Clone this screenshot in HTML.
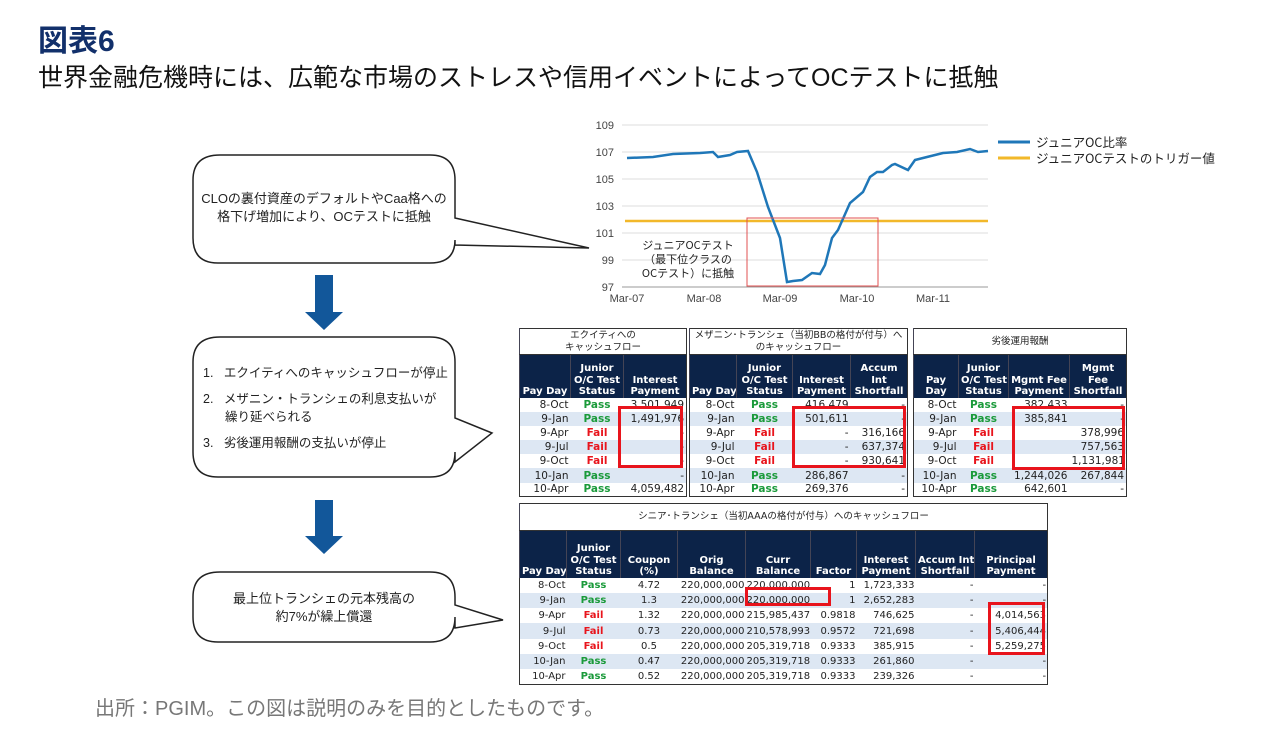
<!DOCTYPE html>
<html><head><meta charset="utf-8">
<style>
body{margin:0;width:1280px;height:737px;background:#fff;position:relative;overflow:hidden;font-family:"Liberation Sans","Noto Sans CJK JP",sans-serif;}
.abs{position:absolute;}
table{border-collapse:collapse;position:absolute;font-family:"DejaVu Sans","Noto Sans CJK JP",sans-serif;font-size:10.5px;border:1px solid #333;table-layout:fixed;background:#fff;}
table.s4{font-size:10px;}
table.s4 td{padding:0 1px;}
td,th{padding:0 2px;white-space:nowrap;overflow:hidden;}
th{background:#0c2348;color:#fff;font-weight:bold;line-height:11.5px;vertical-align:bottom;text-align:center;border-left:1px solid #445;font-size:10px;}
th.t{background:#fff;color:#222;font-weight:normal;font-size:9.5px;line-height:12px;vertical-align:middle;border-bottom:1px solid #333;}
td{text-align:right;color:#222;}
td.s{text-align:center;}
tr.a td{background:#dde7f3;}
.p{color:#1a9a3a;font-weight:bold;text-align:center;}
.f{color:#e8141c;font-weight:bold;text-align:center;}
.rb{position:absolute;border:3px solid #e8141c;box-sizing:border-box;}
</style></head><body>
<div class="abs" style="left:38px;top:16px;font-size:30px;font-weight:bold;color:#12306b;">図表6</div>
<div class="abs" style="left:38px;top:58px;font-size:25px;color:#111;">世界金融危機時には、広範な市場のストレスや信用イベントによってOCテストに抵触</div>
<div class="abs" style="left:95px;top:692px;font-size:20px;color:#777;">出所：PGIM。この図は説明のみを目的としたものです。</div>

<svg class="abs" style="left:0;top:0" width="1280" height="737">
<g fill="#fff" stroke="#222" stroke-width="1.5">
<path d="M220,155 H430 Q455,155 455,180 V218 L589,248 L455,245 V240 Q455,263 430,263 H218 Q193,263 193,238 V180 Q193,155 220,155 Z"/>
<path d="M220,337 H430 Q455,337 455,362 V418 L492,433 L455,462 V452 Q455,477 430,477 H218 Q193,477 193,452 V362 Q193,337 220,337 Z"/>
<path d="M220,572 H430 Q455,572 455,597 V605 L503,620 L455,628 V617 Q455,642 430,642 H218 Q193,642 193,617 V597 Q193,572 220,572 Z"/>
</g>
<g fill="#12579a">
<path d="M315,275 H333 V312 H343 L324,330 L305,312 H315 Z"/>
<path d="M315,500 H333 V536 H343 L324,554 L305,536 H315 Z"/>
</g>
<g stroke="#ddd" stroke-width="1">
<line x1="622" x2="988" y1="125" y2="125"/><line x1="622" x2="988" y1="152" y2="152"/><line x1="622" x2="988" y1="179" y2="179"/><line x1="622" x2="988" y1="206" y2="206"/><line x1="622" x2="988" y1="233" y2="233"/><line x1="622" x2="988" y1="260" y2="260"/>
</g>
<line x1="622" x2="988" y1="287" y2="287" stroke="#999"/>
<g font-size="11" fill="#444" font-family="Liberation Sans,sans-serif" text-anchor="end">
<text x="614" y="129">109</text><text x="614" y="156">107</text><text x="614" y="183">105</text><text x="614" y="210">103</text><text x="614" y="237">101</text><text x="614" y="264">99</text><text x="614" y="291">97</text>
</g>
<g font-size="11" fill="#444" font-family="Liberation Sans,sans-serif" text-anchor="middle">
<text x="627" y="302">Mar-07</text><text x="704" y="302">Mar-08</text><text x="780" y="302">Mar-09</text><text x="857" y="302">Mar-10</text><text x="933" y="302">Mar-11</text>
</g>
<line x1="625" x2="988" y1="221" y2="221" stroke="#f2b82a" stroke-width="2.5"/>
<polyline fill="none" stroke="#1f77b8" stroke-width="2.5" points="627,158 653,157 673,154 700,153 713,152 718,157 730,155 737,152 748,151 757,172 768,207 780,238 787,282 793,281 802,280 812,273 820,274 825,265 832,238 838,230 850,203 863,192 870,177 877,172 883,172 892,165 895,164 908,170 915,160 927,157 943,153 957,152 970,149 978,152 988,151"/>
<rect x="747" y="218" width="131" height="68" fill="none" stroke="#e05050" stroke-width="1"/>
<g font-size="11" fill="#222" text-anchor="middle" font-family="Noto Sans CJK JP,sans-serif">
<text x="688" y="249">ジュニアOCテスト</text><text x="688" y="263">（最下位クラスの</text><text x="688" y="277">OCテスト）に抵触</text>
</g>
<line x1="998" x2="1030" y1="142" y2="142" stroke="#1f77b8" stroke-width="3"/>
<line x1="998" x2="1030" y1="158" y2="158" stroke="#f2b82a" stroke-width="3"/>
<g font-size="12.5" fill="#222" font-family="Noto Sans CJK JP,sans-serif"><text x="1036" y="147">ジュニアOC比率</text><text x="1036" y="163">ジュニアOCテストのトリガー値</text></g>
</svg>
<div class="abs" style="left:193px;top:190px;width:262px;text-align:center;font-size:13px;line-height:18px;color:#222;">CLOの裏付資産のデフォルトやCaa格への<br>格下げ増加により、OCテストに抵触</div>
<div class="abs" style="left:203px;top:364px;font-size:12.5px;line-height:18px;color:#222;">
<div>1.&nbsp;&nbsp;&nbsp;エクイティへのキャッシュフローが停止</div>
<div style="margin-top:8px">2.&nbsp;&nbsp;&nbsp;メザニン・トランシェの利息支払いが<br><span style="padding-left:22px">繰り延べられる</span></div>
<div style="margin-top:8px">3.&nbsp;&nbsp;&nbsp;劣後運用報酬の支払いが停止</div></div>
<div class="abs" style="left:193px;top:590px;width:262px;text-align:center;font-size:13px;line-height:18px;color:#222;">最上位トランシェの元本残高の<br>約7%が繰上償還</div>

<table style="left:519px;top:328px;width:167px;">
<colgroup><col style="width:51px"><col style="width:53px"><col style="width:63px"></colgroup>
<tr style="height:26px"><th class="t" colspan="3">エクイティへの<br>キャッシュフロー</th></tr>
<tr style="height:43px"><th>Pay Day</th><th>Junior<br>O/C Test<br>Status</th><th>Interest<br>Payment</th></tr>
<tr style="height:14.2px"><td>8-Oct</td><td class="p">Pass</td><td>3,501,949</td></tr>
<tr class="a" style="height:14.2px"><td>9-Jan</td><td class="p">Pass</td><td>1,491,976</td></tr>
<tr style="height:14.2px"><td>9-Apr</td><td class="f">Fail</td><td>-</td></tr>
<tr class="a" style="height:14.2px"><td>9-Jul</td><td class="f">Fail</td><td>-</td></tr>
<tr style="height:14.2px"><td>9-Oct</td><td class="f">Fail</td><td>-</td></tr>
<tr class="a" style="height:14.2px"><td>10-Jan</td><td class="p">Pass</td><td>-</td></tr>
<tr style="height:14.2px"><td>10-Apr</td><td class="p">Pass</td><td>4,059,482</td></tr>
</table>
<table style="left:689px;top:328px;width:218px;">
<colgroup><col style="width:47px"><col style="width:56px"><col style="width:58px"><col style="width:57px"></colgroup>
<tr style="height:26px"><th class="t" colspan="4">メザニン･トランシェ（当初BBの格付が付与）へ<br>のキャッシュフロー</th></tr>
<tr style="height:43px"><th>Pay Day</th><th>Junior<br>O/C Test<br>Status</th><th>Interest<br>Payment</th><th>Accum<br>Int<br>Shortfall</th></tr>
<tr style="height:14.2px"><td>8-Oct</td><td class="p">Pass</td><td>416,479</td><td>-</td></tr>
<tr class="a" style="height:14.2px"><td>9-Jan</td><td class="p">Pass</td><td>501,611</td><td>-</td></tr>
<tr style="height:14.2px"><td>9-Apr</td><td class="f">Fail</td><td>-</td><td>316,166</td></tr>
<tr class="a" style="height:14.2px"><td>9-Jul</td><td class="f">Fail</td><td>-</td><td>637,374</td></tr>
<tr style="height:14.2px"><td>9-Oct</td><td class="f">Fail</td><td>-</td><td>930,641</td></tr>
<tr class="a" style="height:14.2px"><td>10-Jan</td><td class="p">Pass</td><td>286,867</td><td>-</td></tr>
<tr style="height:14.2px"><td>10-Apr</td><td class="p">Pass</td><td>269,376</td><td>-</td></tr>
</table>
<table style="left:913px;top:328px;width:213px;">
<colgroup><col style="width:45px"><col style="width:50px"><col style="width:61px"><col style="width:57px"></colgroup>
<tr style="height:26px"><th class="t" colspan="4">劣後運用報酬</th></tr>
<tr style="height:43px"><th>Pay<br>Day</th><th>Junior<br>O/C Test<br>Status</th><th>Mgmt Fee<br>Payment</th><th>Mgmt<br>Fee<br>Shortfall</th></tr>
<tr style="height:14.2px"><td>8-Oct</td><td class="p">Pass</td><td>382,433</td><td>-</td></tr>
<tr class="a" style="height:14.2px"><td>9-Jan</td><td class="p">Pass</td><td>385,841</td><td>-</td></tr>
<tr style="height:14.2px"><td>9-Apr</td><td class="f">Fail</td><td></td><td>378,996</td></tr>
<tr class="a" style="height:14.2px"><td>9-Jul</td><td class="f">Fail</td><td></td><td>757,563</td></tr>
<tr style="height:14.2px"><td>9-Oct</td><td class="f">Fail</td><td></td><td>1,131,981</td></tr>
<tr class="a" style="height:14.2px"><td>10-Jan</td><td class="p">Pass</td><td>1,244,026</td><td>267,844</td></tr>
<tr style="height:14.2px"><td>10-Apr</td><td class="p">Pass</td><td>642,601</td><td>-</td></tr>
</table>
<table class="s4" style="left:519px;top:503px;width:528px;">
<colgroup><col style="width:47px"><col style="width:54px"><col style="width:57px"><col style="width:68px"><col style="width:65px"><col style="width:46px"><col style="width:59px"><col style="width:59px"><col style="width:73px"></colgroup>
<tr style="height:27px"><th class="t" colspan="9">シニア･トランシェ（当初AAAの格付が付与）へのキャッシュフロー</th></tr>
<tr style="height:47px"><th>Pay Day</th><th>Junior<br>O/C Test<br>Status</th><th>Coupon<br>(%)</th><th>Orig<br>Balance</th><th>Curr<br>Balance</th><th>Factor</th><th>Interest<br>Payment</th><th>Accum Int<br>Shortfall</th><th>Principal<br>Payment</th></tr>
<tr style="height:15.3px"><td>8-Oct</td><td class="p">Pass</td><td class="s">4.72</td><td>220,000,000</td><td>220,000,000</td><td>1</td><td>1,723,333</td><td>-</td><td>-</td></tr>
<tr class="a" style="height:15.3px"><td>9-Jan</td><td class="p">Pass</td><td class="s">1.3</td><td>220,000,000</td><td>220,000,000</td><td>1</td><td>2,652,283</td><td>-</td><td>-</td></tr>
<tr style="height:15.3px"><td>9-Apr</td><td class="f">Fail</td><td class="s">1.32</td><td>220,000,000</td><td>215,985,437</td><td>0.9818</td><td>746,625</td><td>-</td><td>4,014,563</td></tr>
<tr class="a" style="height:15.3px"><td>9-Jul</td><td class="f">Fail</td><td class="s">0.73</td><td>220,000,000</td><td>210,578,993</td><td>0.9572</td><td>721,698</td><td>-</td><td>5,406,444</td></tr>
<tr style="height:15.3px"><td>9-Oct</td><td class="f">Fail</td><td class="s">0.5</td><td>220,000,000</td><td>205,319,718</td><td>0.9333</td><td>385,915</td><td>-</td><td>5,259,275</td></tr>
<tr class="a" style="height:15.3px"><td>10-Jan</td><td class="p">Pass</td><td class="s">0.47</td><td>220,000,000</td><td>205,319,718</td><td>0.9333</td><td>261,860</td><td>-</td><td>-</td></tr>
<tr style="height:15.3px"><td>10-Apr</td><td class="p">Pass</td><td class="s">0.52</td><td>220,000,000</td><td>205,319,718</td><td>0.9333</td><td>239,326</td><td>-</td><td>-</td></tr>
</table>
<div class="rb" style="left:618px;top:406px;width:65px;height:62px"></div>
<div class="rb" style="left:792px;top:406px;width:114px;height:62px"></div>
<div class="rb" style="left:1012px;top:406px;width:113px;height:64px"></div>
<div class="rb" style="left:745px;top:587px;width:86px;height:19px"></div>
<div class="rb" style="left:988px;top:602px;width:57px;height:53px"></div>
</body></html>
